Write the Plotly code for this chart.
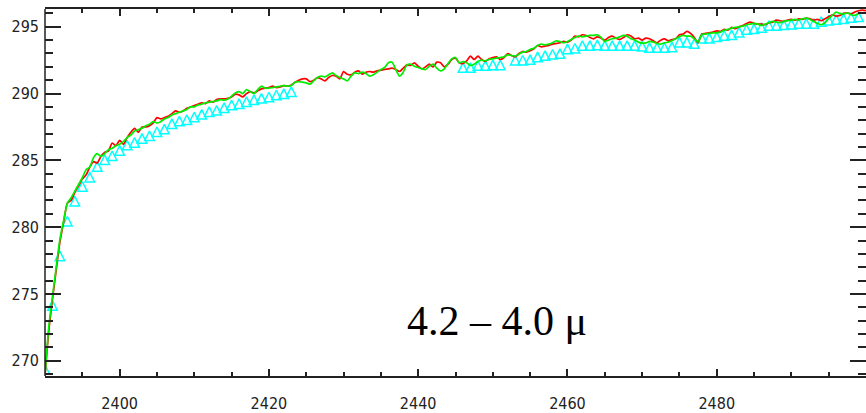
import numpy as np
import plotly.graph_objects as go

# Wavenumber grid for the two measured spectra (0.5 cm^-1 spacing)
wn_lines = np.arange(2390.0, 2500.01, 0.5)

red_vals = [
    268.9, 272.2, 274.6, 276.8, 278.9, 280.4, 281.8, 282.0, 282.6, 283.1,
    283.6, 283.9, 284.5, 284.9, 284.8, 285.3, 285.6, 285.7, 286.3, 286.1,
    286.5, 286.2, 286.7, 287.1, 287.4, 287.1, 287.5, 287.5, 287.6, 287.8,
    288.2, 288.1, 288.2, 288.3, 288.5, 288.7, 288.6, 288.7, 288.9, 289.0,
    289.1, 289.2, 289.3, 289.25, 289.45, 289.35, 289.55, 289.6, 289.6, 289.65,
    289.75, 289.95, 289.9, 289.75, 290.0, 290.15, 290.05, 290.2, 290.35, 290.4,
    290.45, 290.55, 290.45, 290.5, 290.6, 290.55, 290.65, 290.85, 291.0, 291.1,
    291.1, 290.9, 291.0, 291.2, 291.1, 290.95, 291.2, 291.35, 291.3, 291.1,
    291.65, 291.45, 291.4, 291.6, 291.7, 291.45, 291.6, 291.65, 291.6, 291.7,
    291.75, 291.8, 291.85, 291.9, 291.8, 291.65, 291.9, 292.15, 292.1, 292.3,
    292.05, 291.85, 292.0, 292.2, 292.0, 292.35, 292.3, 292.0, 292.2, 292.55,
    292.65, 292.3, 292.25, 292.45, 292.8, 292.55, 292.8, 292.55, 292.4, 292.6,
    292.7, 292.75, 292.55, 292.7, 293.0, 292.85, 292.75, 293.0, 293.15, 293.1,
    293.2, 293.35, 293.6, 293.5, 293.55, 293.6, 293.7, 293.75, 293.8, 293.9,
    293.85, 294.0, 294.3, 294.25, 294.4, 294.35, 294.2, 294.1, 294.25, 294.15,
    294.0, 294.2, 294.3, 294.15, 294.05, 294.2, 294.4, 294.3, 294.1, 294.15,
    294.0, 294.15, 294.1, 293.95, 293.8, 294.0, 294.1, 293.95, 294.05, 294.1,
    294.4, 294.45, 294.65, 294.5, 294.2, 293.8, 294.45, 294.5, 294.55, 294.6,
    294.7, 294.65, 294.8, 294.75, 294.95, 294.85, 295.0, 295.1, 295.25, 295.35,
    295.25, 295.2, 295.2, 295.15, 295.3, 295.35, 295.5, 295.45, 295.4, 295.5,
    295.55, 295.5, 295.6, 295.55, 295.65, 295.6, 295.5, 295.55, 295.45, 295.6,
    295.75, 295.9, 295.8, 295.85, 296.0, 296.05, 295.95, 296.1, 296.2, 296.25,
    296.2,
]

green_vals = [
    268.9, 272.5, 274.8, 277.0, 279.1, 280.5, 281.8, 282.2, 282.7, 283.2,
    283.7, 284.3, 284.5, 285.2, 285.5, 285.3, 285.5, 285.8, 285.9, 286.1,
    286.2, 286.4, 286.7, 286.9, 287.2, 287.3, 287.4, 287.6, 287.7, 287.9,
    287.8, 287.9, 288.1, 288.2, 288.4, 288.5, 288.6, 288.7, 288.8, 289.0,
    289.0, 289.15, 289.2, 289.3, 289.35, 289.4, 289.45, 289.55, 289.5, 289.6,
    289.8, 290.05, 290.15, 290.0, 290.3, 290.15, 290.0, 290.3, 290.55, 290.4,
    290.4, 290.45, 290.5, 290.55, 290.6, 290.55, 290.6, 290.85, 290.9, 290.85,
    290.8, 290.7, 290.95, 291.2, 291.3, 291.25, 291.4, 291.55, 291.35, 291.2,
    291.1, 290.95, 291.3, 291.55, 291.5, 291.6, 291.5, 291.3, 291.4, 291.6,
    291.8, 291.95, 292.3, 292.35, 291.8, 291.3, 291.6, 292.15, 292.2, 292.05,
    291.95, 291.85, 291.8, 292.05, 292.2, 291.9, 291.7, 291.85, 292.25, 292.6,
    292.7, 292.3, 292.4, 292.3, 292.1, 292.2, 292.4, 292.5, 292.45, 292.55,
    292.6, 292.65, 292.7, 292.75, 292.9, 292.85, 292.8, 292.95, 293.1, 293.15,
    293.3, 293.4, 293.6, 293.7, 293.65, 293.7, 293.8, 293.95, 293.9, 293.8,
    293.9, 294.05, 294.2, 294.3, 294.25, 294.3, 294.35, 294.35, 294.4, 294.2,
    293.9, 294.0, 294.1, 294.15, 294.25, 294.35, 294.3, 294.1, 294.0, 293.85,
    293.78, 293.8, 293.9, 293.85, 293.75, 293.7, 293.8, 293.85, 293.95, 294.1,
    294.25, 294.35, 294.3, 294.3, 294.1, 293.85, 294.4, 294.45, 294.5, 294.55,
    294.55, 294.6, 294.75, 294.8, 294.9, 294.95, 295.0, 295.05, 295.15, 295.2,
    295.25, 295.2, 295.1, 295.2, 295.3, 295.4, 295.35, 295.3, 295.4, 295.45,
    295.5, 295.55, 295.5, 295.6, 295.65, 295.55, 295.4, 295.25, 295.15, 295.3,
    295.6, 295.85, 296.1, 296.0, 295.95, 296.05, 295.9, 295.85, 296.0, 296.05,
    296.0,
]

# Model points (1 cm^-1 spacing, gaps where no model value exists)
wn_model = list(range(2390, 2424)) + list(range(2446, 2500))
model_vals = [
    269.7, 274.5, 278.2, 280.8, 282.3, 283.4, 284.1, 284.9, 285.4, 285.7,
    286.1, 286.5, 286.7, 287.0, 287.2, 287.5, 287.7, 288.1, 288.3, 288.4,
    288.6, 288.8, 289.0, 289.1, 289.3, 289.5, 289.6, 289.75, 289.9, 290.0,
    290.1, 290.25, 290.35, 290.5,
    292.3, 292.3, 292.45, 292.45, 292.5, 292.5, None, 292.85, 292.85, 292.9,
    293.1, 293.2, 293.3, 293.35, 293.7, 293.75, 293.95, 293.95, 294.0, 293.95,
    293.95, 293.95, 293.95, 293.95, 293.9, 293.8, 293.8, 293.8, 293.85, 294.2,
    294.2, 294.1, 294.5, 294.5, 294.6, 294.7, 294.75, 294.95, 295.15, 295.2,
    295.3, 295.45, 295.45, 295.5, 295.55, 295.6, 295.6, 295.6, 295.75, 295.85,
    295.9, 295.95, 296.05, 296.1,
]

x_ticks = [2400, 2420, 2440, 2460, 2480]
y_ticks = [270, 275, 280, 285, 290, 295]
band_label = "4.2 – 4.0 μ"

fig = go.Figure()

fig.add_trace(go.Scatter(
    x=wn_model, y=model_vals, mode="markers",
    marker=dict(symbol="arrow-up-open", size=9.5, color="#00ffff",
                line=dict(color="#00ffff", width=1.5)),
    showlegend=False, hoverinfo="skip",
))
fig.add_trace(go.Scatter(
    x=wn_lines, y=red_vals, mode="lines",
    line=dict(color="#ff0000", width=1.7, shape="spline", smoothing=0.6),
    showlegend=False, hoverinfo="skip",
))
fig.add_trace(go.Scatter(
    x=wn_lines, y=green_vals, mode="lines",
    line=dict(color="#00ee00", width=1.7, shape="spline", smoothing=0.6),
    showlegend=False, hoverinfo="skip",
))

tick_font = dict(family="DejaVu Sans Condensed, Liberation Sans Narrow, sans-serif",
                 size=16, color="#222222")

fig.update_xaxes(
    range=[2390, 2500], tickvals=x_ticks, ticktext=[str(v) for v in x_ticks],
    ticks="inside", ticklen=7, tickwidth=1.5, tickcolor="#222222",
    showline=True, linecolor="#222222", linewidth=1.5, mirror="ticks",
    showgrid=False, zeroline=False, tickfont=tick_font, ticklabelstandoff=12,
    minor=dict(dtick=5, tick0=2390, ticks="inside", ticklen=4, tickwidth=1.5,
               tickcolor="#222222", showgrid=False),
)
# y axis: ticks on both sides, but only the left frame edge is drawn
fig.update_yaxes(
    range=[268.86, 296.33], tickvals=y_ticks, ticktext=[str(v) for v in y_ticks],
    ticks="inside", ticklen=16, tickwidth=1.5, tickcolor="#222222",
    showline=False, mirror="ticks",
    showgrid=False, zeroline=False, tickfont=tick_font, ticklabelstandoff=5,
    minor=dict(dtick=1, tick0=270, ticks="inside", ticklen=8, tickwidth=1.5,
               tickcolor="#222222", showgrid=False),
)
fig.add_shape(type="line", xref="paper", yref="paper", x0=0, x1=0, y0=0, y1=1,
              line=dict(color="#222222", width=1.5), layer="above")

fig.add_annotation(
    x=2450.5, y=273.0, xref="x", yref="y", text=band_label, showarrow=False,
    font=dict(family="Liberation Serif, Times New Roman, serif", size=42, color="#000000"),
    xanchor="center", yanchor="middle",
)

fig.update_layout(
    width=866, height=413,
    margin=dict(l=45, r=0, t=9, b=34),
    paper_bgcolor="white", plot_bgcolor="white",
)

fig.write_html("out.html")
